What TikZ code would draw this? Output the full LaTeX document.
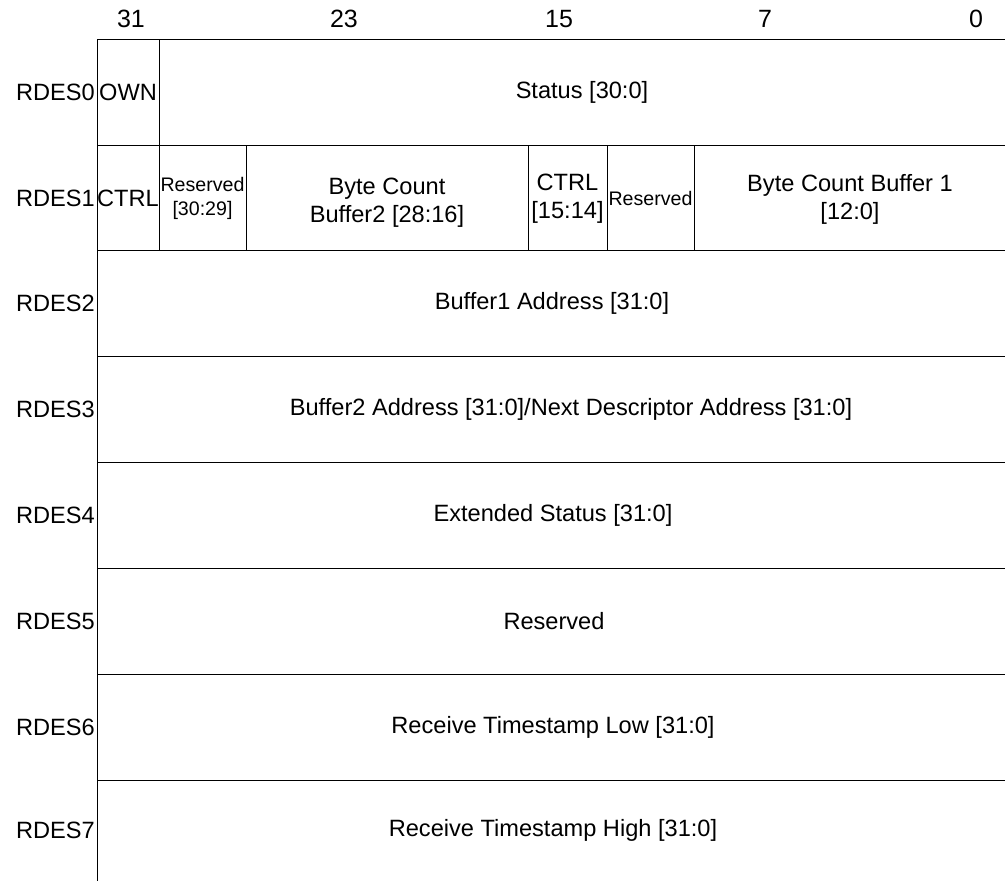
\documentclass[tikz,border=0pt]{standalone}
\usepackage{fontspec}
\setmainfont{Liberation Sans}
\usetikzlibrary{positioning}

\begin{document}
\begin{tikzpicture}[x=1pt, y=-1pt,
    fld/.style={align=center, inner sep=0pt, font=\fontsize{23.6}{28}\selectfont},
    small/.style={align=center, inner sep=0pt, font=\fontsize{19.6}{24}\selectfont},
    lbl/.style={anchor=east, inner sep=2pt, font=\fontsize{23.6}{28}\selectfont},
    bit/.style={inner sep=0pt, font=\fontsize{25}{30}\selectfont},
    grid/.style={line width=1pt}
]
    \useasboundingbox (0,0) rectangle (1005,881);

    % bit positions
    \node[bit] (b31) at (131,19) {31};
    \node[bit] (b23) at (344,19) {23};
    \node[bit] (b15) at (559,19) {15};
    \node[bit] (b7)  at (765,19) {7};
    \node[bit] (b0)  at (976,19) {0};

    % frame
    \draw[grid] (97,39) -- (97,881);
    \foreach \y in {39,145,250,356,462,568,674,780}
        \draw[grid] (97,\y) -- (1005,\y);
    \draw[grid] (159,39) -- (159,250);
    \foreach \x in {246,528,607,694}
        \draw[grid] (\x,145) -- (\x,250);

    % word names
    \node[lbl] (rdes0) at (97,92)  {RDES0};
    \node[lbl] (rdes1) at (97,198) {RDES1};
    \node[lbl] (rdes2) at (97,303) {RDES2};
    \node[lbl] (rdes3) at (97,409) {RDES3};
    \node[lbl] (rdes4) at (97,515) {RDES4};
    \node[lbl] (rdes5) at (97,621) {RDES5};
    \node[lbl] (rdes6) at (97,727) {RDES6};
    \node[lbl] (rdes7) at (97,830) {RDES7};

    % RDES0
    \node[fld] (own)    at (128,92) {OWN};
    \node[fld] (status) at (582,92) {Status [30:0]};

    % RDES1
    \node[fld]   (ctrlhi) at (128,198)   {CTRL};
    \node[small] (rsvhi)  at (202.5,198) {Reserved\\{}[30:29]};
    \node[fld]   (bc2)    at (387,203)   {Byte Count\\Buffer2 [28:16]};
    \node[fld]   (ctrllo) at (567.5,199) {CTRL\\{}[15:14]};
    \node[small] (rsvlo)  at (650.5,198) {Reserved};
    \node[fld]   (bc1)    at (850,199)   {Byte Count Buffer 1\\{}[12:0]};

    % RDES2 .. RDES7
    \node[fld] (buf1)  at (552,303) {Buffer1 Address [31:0]};
    \node[fld] (buf2)  at (571,409) {Buffer2 Address [31:0]/Next Descriptor Address [31:0]};
    \node[fld] (extst) at (553,515) {Extended Status [31:0]};
    \node[fld] (rsv5)  at (554,621) {Reserved};
    \node[fld] (tslo)  at (553,727) {Receive Timestamp Low [31:0]};
    \node[fld] (tshi)  at (553,830) {Receive Timestamp High [31:0]};
\end{tikzpicture}
\end{document}
